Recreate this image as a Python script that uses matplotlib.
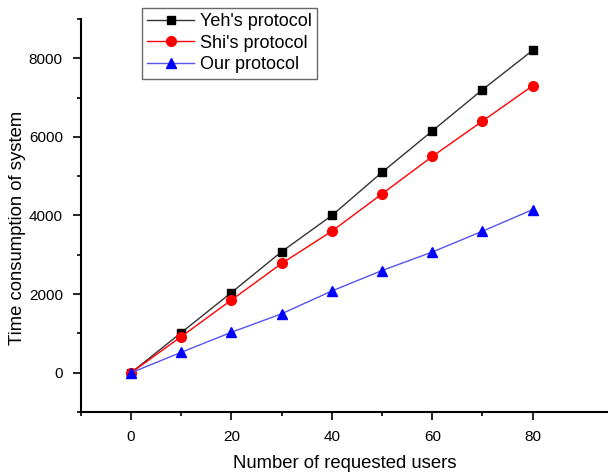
import numpy as np
import matplotlib.pyplot as plt
from matplotlib.ticker import MultipleLocator, FixedLocator

plt.rcParams['font.family'] = ['Liberation Sans', 'DejaVu Sans']

users = [0, 10, 20, 30, 40, 50, 60, 70, 80]
yeh = [0, 1020, 2040, 3080, 4000, 5100, 6150, 7200, 8200]
shi = [0, 920, 1850, 2780, 3600, 4550, 5500, 6400, 7300]
ours = [0, 520, 1030, 1500, 2080, 2600, 3070, 3600, 4150]

fig = plt.figure(figsize=(6.08, 4.72), dpi=100)
ax = fig.add_axes([0.133, 0.127, 0.867, 0.833])

ax.plot(users, yeh, color='#333333', lw=1, marker='s', ms=6, mfc='black', mec='black', label="Yeh's protocol")
ax.plot(users, shi, color='red', lw=1, marker='o', ms=7, mfc='red', mec='red', label="Shi's protocol")
ax.plot(users, ours, color='#5555ee', lw=1, marker='^', ms=7, mfc='blue', mec='blue', label="Our protocol")

ax.set_xlim(-10, 95)
ax.set_ylim(-1000, 9000)
ax.set_xticks([0, 20, 40, 60, 80])
ax.xaxis.set_minor_locator(FixedLocator([-10, 10, 30, 50, 70]))
ax.set_yticks([0, 2000, 4000, 6000, 8000])
ax.yaxis.set_minor_locator(MultipleLocator(1000))

for s in ['top', 'right']:
    ax.spines[s].set_visible(False)
for s in ['left', 'bottom']:
    ax.spines[s].set_linewidth(1.5)
ax.tick_params(which='major', direction='out', length=6, width=1.2, labelsize=11, pad=7)
ax.tick_params(which='minor', direction='out', length=3, width=1.2)

ax.set_xlabel('Number of requested users', fontsize=13.3, labelpad=8)
ax.set_ylabel('Time consumption of system', fontsize=13.3)
ax.yaxis.set_label_coords(-0.104, 0.468)

leg = ax.legend(loc='upper left', bbox_to_anchor=(0.116, 1.028), fontsize=13, frameon=True,
                fancybox=False, edgecolor='#444444', handlelength=2.6, borderpad=0.3,
                labelspacing=0.25, handletextpad=0.3, borderaxespad=0)
leg.get_frame().set_linewidth(1)

fig.savefig('out.png', dpi=100)
